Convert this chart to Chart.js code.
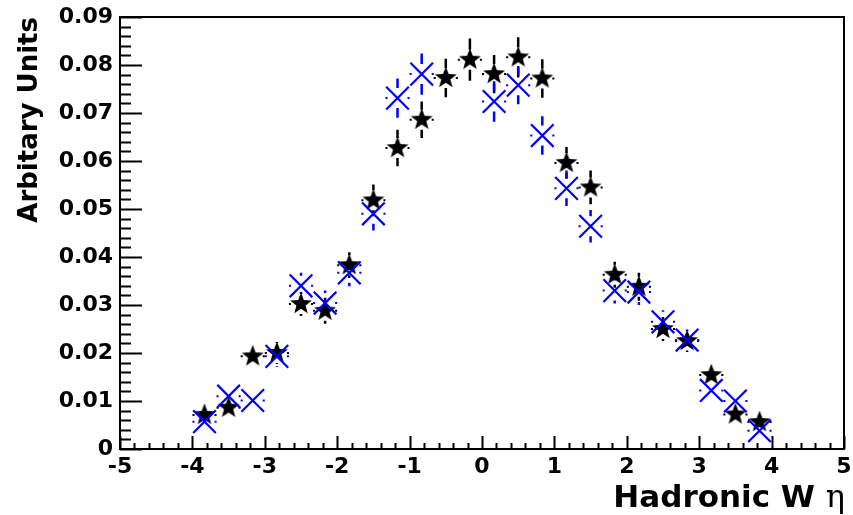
<!DOCTYPE html>
<html>
<head>
<meta charset="utf-8">
<script src="https://cdn.jsdelivr.net/npm/chart.js@4.4.1/dist/chart.umd.min.js"></script>
<style>
  html, body { margin: 0; padding: 0; background: #fff; }
  #wrap { width: 853px; height: 515px; }
</style>
</head>
<body>
<div id="wrap"><canvas id="chart" width="853" height="515"></canvas></div>
<script>
// bin centres (eta), 24 bins of width 1/3 from -4 to 4
const etaBins = [-3.833, -3.5, -3.167, -2.833, -2.5, -2.167, -1.833, -1.5, -1.167, -0.833, -0.5, -0.167,
                 0.167, 0.5, 0.833, 1.167, 1.5, 1.833, 2.167, 2.5, 2.833, 3.167, 3.5, 3.833];
const binHalfWidth = 1 / 6;

// black stars
const starValues = [0.0071, 0.0086, 0.0193, 0.0200, 0.0302, 0.0288, 0.0383, 0.0518, 0.0627, 0.0686, 0.0773, 0.0811,
                    0.0781, 0.0816, 0.0772, 0.0596, 0.0545, 0.0363, 0.0338, 0.0250, 0.0225, 0.0154, 0.0072, 0.0056];
const starErrors = [0.0017, 0.0018, 0.0020, 0.0023, 0.0025, 0.0027, 0.0027, 0.0033, 0.0038, 0.0038, 0.0040, 0.0044,
                    0.0040, 0.0042, 0.0040, 0.0033, 0.0035, 0.0027, 0.0029, 0.0025, 0.0023, 0.0019, 0.0016, 0.0015];

// blue crosses
const crossValues = [0.0057, 0.0110, 0.0101, 0.0193, 0.0340, 0.0304, 0.0367, 0.0490, 0.0731, 0.0781, null, null,
                     0.0724, 0.0758, 0.0653, 0.0543, 0.0464, 0.0330, 0.0327, 0.0265, 0.0227, 0.0122, 0.0100, 0.0038];
const crossErrors = [0.0016, 0.0019, 0.0019, 0.0022, 0.0027, 0.0026, 0.0028, 0.0035, 0.0041, 0.0043, 0, 0,
                     0.0042, 0.0040, 0.0040, 0.0037, 0.0034, 0.0027, 0.0027, 0.0024, 0.0022, 0.0018, 0.0017, 0.0013];

const yTicks = [0, 0.01, 0.02, 0.03, 0.04, 0.05, 0.06, 0.07, 0.08, 0.09];
const xTicks = [-5, -4, -3, -2, -1, 0, 1, 2, 3, 4, 5];

const blue = '#0000ff';
const black = '#000000';

// filled five point star marker
function makeStar(size, outer, inner) {
  const c = document.createElement('canvas');
  c.width = size; c.height = size;
  const g = c.getContext('2d');
  g.fillStyle = black;
  g.beginPath();
  for (let i = 0; i < 10; i++) {
    const r = i % 2 === 0 ? outer : inner;
    const a = -Math.PI / 2 + i * Math.PI / 5;
    const px = size / 2 + r * Math.cos(a);
    const py = size / 2 + r * Math.sin(a);
    if (i === 0) g.moveTo(px, py); else g.lineTo(px, py);
  }
  g.closePath();
  g.fill();
  return c;
}
const starMarker = makeStar(26, 11.5, 4.8);

function toPoints(values, errors) {
  const pts = [];
  etaBins.forEach((x, i) => {
    if (values[i] !== null) pts.push({ x: x, y: values[i], err: errors[i] });
  });
  return pts;
}

// ROOT style error bars: bar hidden inside the marker
const errorBars = {
  id: 'errorBars',
  beforeDatasetsDraw(chart) {
    const ctx = chart.ctx;
    const xs = chart.scales.x, ys = chart.scales.y;
    chart.data.datasets.forEach((ds) => {
      const gap = 10;
      ctx.save();
      ctx.strokeStyle = ds.borderColor;
      ds.data.forEach((p) => {
        const cx = xs.getPixelForValue(p.x);
        const cy = ys.getPixelForValue(p.y);
        const top = ys.getPixelForValue(p.y + p.err);
        const bot = ys.getPixelForValue(p.y - p.err);
        const left = xs.getPixelForValue(p.x - binHalfWidth);
        const right = xs.getPixelForValue(p.x + binHalfWidth);
        ctx.lineWidth = 2.5;
        ctx.beginPath();
        if (cy - top > gap) { ctx.moveTo(cx, top); ctx.lineTo(cx, cy - gap); }
        if (bot - cy > gap) { ctx.moveTo(cx, cy + gap); ctx.lineTo(cx, bot); }
        ctx.stroke();
        ctx.lineWidth = 2;
        ctx.beginPath();
        if (cx - left > gap) {
          ctx.moveTo(left, cy); ctx.lineTo(cx - gap, cy);
          ctx.moveTo(cx + gap, cy); ctx.lineTo(right, cy);
        }
        ctx.stroke();
      });
      ctx.restore();
    });
  }
};

// frame, inside ticks and x axis title
const frame = {
  id: 'frame',
  afterDraw(chart) {
    const ctx = chart.ctx;
    const a = chart.chartArea;
    const xs = chart.scales.x, ys = chart.scales.y;
    ctx.save();
    ctx.strokeStyle = black;
    ctx.lineWidth = 2;
    ctx.strokeRect(a.left, a.top, a.right - a.left, a.bottom - a.top);
    ctx.beginPath();
    for (let i = 0; i <= 45; i++) {
      const v = i * 0.002;
      const py = Math.round(ys.getPixelForValue(v)) + 0.5;
      const len = i % 5 === 0 ? 22 : 11;
      ctx.moveTo(a.left, py); ctx.lineTo(a.left + len, py);
    }
    for (let i = 0; i <= 50; i++) {
      const v = -5 + i * 0.2;
      const px = Math.round(xs.getPixelForValue(v)) + 0.5;
      const len = i % 5 === 0 ? 13 : 6;
      ctx.moveTo(px, a.bottom); ctx.lineTo(px, a.bottom - len);
    }
    ctx.stroke();

    // x title, eta in a plain serif face
    const baseY = 507;
    const eta = '\u03b7';
    ctx.fillStyle = black;
    ctx.textBaseline = 'alphabetic';
    ctx.font = '32px "DejaVu Serif"';
    const etaW = ctx.measureText(eta).width;
    ctx.textAlign = 'right';
    ctx.fillText(eta, 845, baseY);
    ctx.font = 'bold 31px "DejaVu Sans"';
    ctx.fillText('Hadronic W ', 845 - etaW, baseY);
    ctx.restore();
  }
};

new Chart(document.getElementById('chart'), {
  type: 'scatter',
  data: {
    datasets: [
      {
        label: 'stars',
        data: toPoints(starValues, starErrors),
        pointStyle: starMarker,
        pointRadius: 12,
        borderColor: black,
        backgroundColor: black,
        order: 1
      },
      {
        label: 'crosses',
        data: toPoints(crossValues, crossErrors),
        pointStyle: 'crossRot',
        pointRadius: 16,
        pointBorderWidth: 2.2,
        borderColor: blue,
        backgroundColor: blue,
        order: 0
      }
    ]
  },
  options: {
    responsive: false,
    animation: false,
    devicePixelRatio: 1,
    layout: { autoPadding: false, padding: { top: 17, right: 9, left: 0, bottom: 0 } },
    plugins: { legend: { display: false }, tooltip: { enabled: false } },
    elements: { point: { hoverRadius: 12 } },
    scales: {
      x: {
        type: 'linear',
        min: -5,
        max: 5,
        afterFit: (scale) => { scale.height = 66; scale.paddingLeft = 0; scale.paddingRight = 0; },
        afterBuildTicks: (scale) => { scale.ticks = xTicks.map(v => ({ value: v })); },
        grid: { display: false, drawTicks: false },
        border: { display: false },
        ticks: {
          color: black,
          padding: 5,
          maxRotation: 0,
          font: { family: 'DejaVu Sans', weight: 'bold', size: 22 },
          callback: (v) => String(v)
        }
      },
      y: {
        type: 'linear',
        min: 0,
        max: 0.09,
        afterFit: (scale) => { scale.width = 120; scale.paddingTop = 0; scale.paddingBottom = 0; },
        afterBuildTicks: (scale) => { scale.ticks = yTicks.map(v => ({ value: v })); },
        grid: { display: false, drawTicks: false },
        border: { display: false },
        title: {
          display: true,
          text: 'Arbitary Units',
          align: 'end',
          color: black,
          padding: { top: 15, bottom: 0 },
          font: { family: 'DejaVu Sans', weight: 'bold', size: 26 }
        },
        ticks: {
          color: black,
          padding: 7,
          font: { family: 'DejaVu Sans', weight: 'bold', size: 22 },
          callback: (v) => (v === 0 ? '0' : v.toFixed(2))
        }
      }
    }
  },
  plugins: [errorBars, frame]
});
</script>
</body>
</html>
